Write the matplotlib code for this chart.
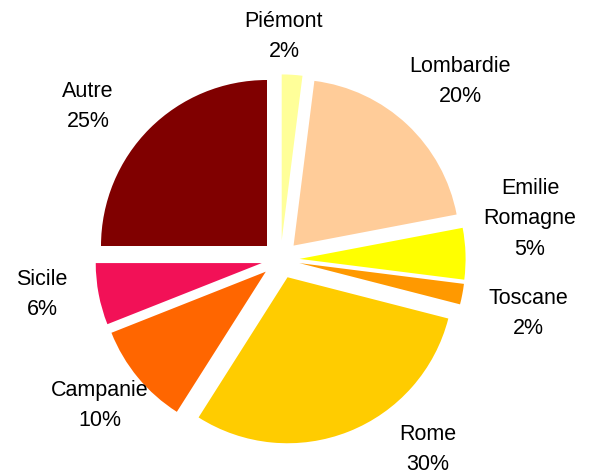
import matplotlib
matplotlib.use('Agg')
import matplotlib.pyplot as plt

plt.rcParams['font.family'] = ['Liberation Sans', 'DejaVu Sans']

# ---------------------------------------------------------------------- data
regions = ['Piémont', 'Lombardie', 'Emilie\nRomagne', 'Toscane', 'Rome',
           'Campanie', 'Sicile', 'Autre']
shares = [2, 20, 5, 2, 30, 10, 6, 25]
colors = ['#FFFF99', '#FFCC99', '#FFFF00', '#FF9900', '#FFCC00',
          '#FF6600', '#F21157', '#800000']

# label centres in pixels (x from left, y of first line from top)
label_px = [(284, 20), (460, 65), (530, 187), (528, 297), (428, 433),
            (100, 389), (42, 278), (88, 90)]

W, H = 594, 476
CX, CY, R = 280.5, 259.5, 166.0

fig = plt.figure(figsize=(W / 100, H / 100), dpi=100)
fig.patch.set_facecolor('white')
ax = fig.add_axes([0, 0, 1, 1])

ax.pie(shares, colors=colors, startangle=90, counterclock=False,
       explode=[0.115] * len(shares), radius=1.0,
       wedgeprops=dict(linewidth=0))

# pie() resets the limits, so fix the view afterwards
ax.set_xlim(-CX / R, (W - CX) / R)
ax.set_ylim(-(H - CY) / R, CY / R)
ax.set_aspect('equal')
ax.axis('off')

for name, val, (px, py) in zip(regions, shares, label_px):
    txt = f'{name}\n{val}%'
    ax.text((px - CX) / R, (CY - py) / R + 9 / R, txt, ha='center', va='top',
            fontsize=15.5, color='black', linespacing=1.58)

fig.savefig('out.png', dpi=100, facecolor='white')
